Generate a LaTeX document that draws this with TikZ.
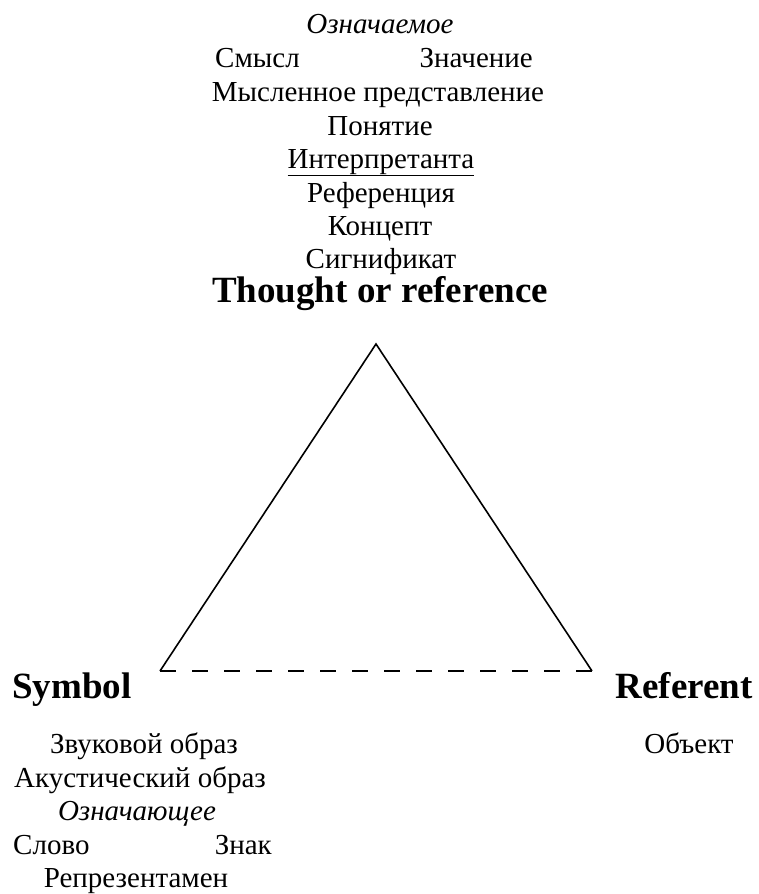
\documentclass[tikz,border=0pt]{standalone}
\usepackage{fontspec}
\setmainfont{Liberation Serif}
\usetikzlibrary{positioning}

\begin{document}
\begin{tikzpicture}[
  x=1pt,y=-1pt,
  word/.style={font=\fontsize{29}{33}\selectfont,inner sep=0pt,anchor=base},
  term/.style={font=\fontsize{37}{42}\selectfont\bfseries,inner sep=0pt,anchor=base},
  side/.style={line width=1.6pt,line join=miter},
  gap/.style={side,dash pattern=on 16pt off 16pt}
]
  \useasboundingbox (0,0) rectangle (758,894);

  % signified (top)
  \node[word] (signified) at (380,33) {\itshape Означаемое};
  \node[word,anchor=base west] (sense) at (215,67) {Смысл};
  \node[word,anchor=base east] (meaning) at (533,67) {Значение};
  \node[word] (image) at (378,101) {Мысленное представление};
  \node[word] (notion) at (380,135) {Понятие};
  \node[word] (interp) at (381,168) {\underline{Интерпретанта}};
  \node[word] (refer) at (381,202) {Референция};
  \node[word] (concept) at (380,235) {Концепт};
  \node[word] (signif) at (381,268) {Сигнификат};
  \node[term] (thought) at (380,302) {Thought or reference};

  % corners
  \coordinate (apex) at (376,344);
  \coordinate (symb) at (160,671);
  \coordinate (refe) at (592,671);
  \draw[side] (symb) -- (apex) -- (refe);
  \draw[gap] (symb) -- (refe);

  % signifier (left)
  \node[term,anchor=base west] (symbol) at (12,698) {Symbol};
  \node[word] (sound) at (144,753) {Звуковой образ};
  \node[word] (acoustic) at (140,787) {Акустический образ};
  \node[word] (signifier) at (137,820) {\itshape Означающее};
  \node[word,anchor=base west] (wordnode) at (13,854) {Слово};
  \node[word,anchor=base east] (sign) at (272,854) {Знак};
  \node[word] (repr) at (136,887) {Репрезентамен};

  % referent (right)
  \node[term,anchor=base east] (referent) at (753,698) {Referent};
  \node[word] (object) at (689,753) {Объект};
\end{tikzpicture}
\end{document}
